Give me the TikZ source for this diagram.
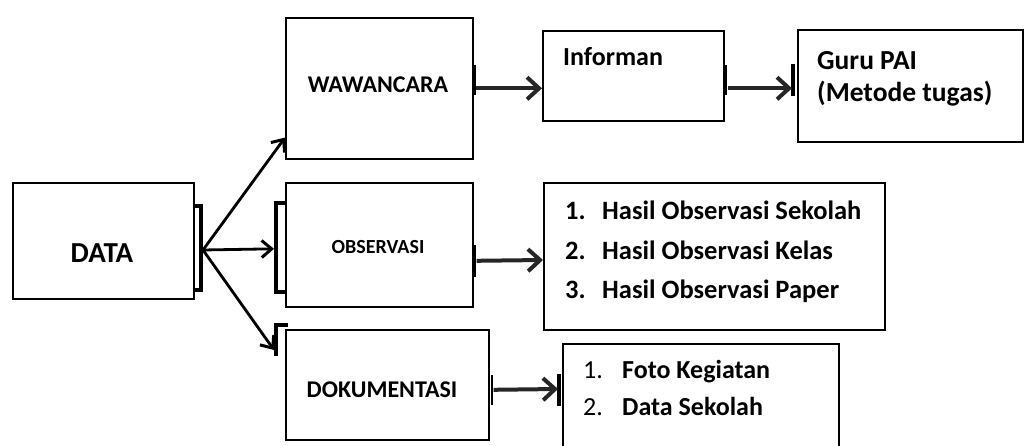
\documentclass[tikz,border=0pt]{standalone}
\usepackage{fontspec}
\setmainfont{Carlito}
\usetikzlibrary{arrows.meta}
\begin{document}
\begin{tikzpicture}[x=1pt,y=-1pt,
  box/.style={draw,line width=1.6pt,inner sep=0pt,anchor=north west},
  txt/.style={inner sep=0pt,anchor=base},
  ltxt/.style={inner sep=0pt,anchor=base west},
  harrow/.style={line width=4pt,draw=black!85,-{Straight Barb[length=12pt,width=22pt,line width=4pt]}},
  darrow/.style={line width=2.8pt,-{Straight Barb[length=10pt,width=17pt,line width=3pt]}},
  brk/.style={line width=3.6pt,miter limit=4},
  tick/.style={line width=1.6pt},
  endbar/.style={line width=4pt}]
\clip (0,0) rectangle (1024,446);
\fill[white] (0,0) rectangle (1024,446);
% boxes
\node[box,minimum width=181pt,minimum height=116pt] (data) at (12,182) {};
\node[box,minimum width=187pt,minimum height=141pt] (waw) at (285,17) {};
\node[box,minimum width=187pt,minimum height=124pt] (obs) at (285,182) {};
\node[box,minimum width=203pt,minimum height=110pt] (dok) at (285,329) {};
\node[box,minimum width=181pt,minimum height=90pt] (inf) at (542,30) {};
\node[box,minimum width=225pt,minimum height=112pt] (guru) at (797,29) {};
\node[box,minimum width=341pt,minimum height=147pt] (obsl) at (543,182) {};
\node[box,minimum width=276pt,minimum height=130pt] (dokl) at (562,343) {};
% texts
\node[txt,font=\fontsize{29}{35}\selectfont\bfseries] (tdata) at (102,262) {DATA};
\node[txt,font=\fontsize{24}{29}\selectfont\bfseries] (twaw) at (378,93) {WAWANCARA};
\node[txt,font=\fontsize{20}{24}\selectfont\bfseries] (tobs) at (378,253) {OBSERVASI};
\node[txt,font=\fontsize{24}{29}\selectfont\bfseries] (tdok) at (382,397) {DOKUMENTASI};
\node[ltxt,font=\fontsize{26}{31}\selectfont\bfseries] (tinf) at (563,66) {Informan};
\node[ltxt,font=\fontsize{27.5}{33}\selectfont\bfseries] (tguru1) at (817,70) {Guru PAI};
\node[ltxt,font=\fontsize{27.5}{33}\selectfont\bfseries] (tguru2) at (817,102) {(Metode tugas)};
\node[ltxt,font=\fontsize{26.5}{32}\selectfont\bfseries] (ob1) at (565,220) {\makebox[37pt][l]{1.}Hasil Observasi Sekolah};
\node[ltxt,font=\fontsize{26.5}{32}\selectfont\bfseries] (ob2) at (565,259) {\makebox[37pt][l]{2.}Hasil Observasi Kelas};
\node[ltxt,font=\fontsize{26.5}{32}\selectfont\bfseries] (ob3) at (565,298) {\makebox[37pt][l]{3.}Hasil Observasi Paper};
\node[ltxt,font=\fontsize{26}{31}\selectfont] (dk1) at (583,378) {\makebox[39pt][l]{1.}\textbf{Foto Kegiatan}};
\node[ltxt,font=\fontsize{26}{31}\selectfont] (dk2) at (583,415) {\makebox[39pt][l]{2.}\textbf{Data Sekolah}};
% brackets and bars
\draw[brk] (194,206) -- (201,206) -- (201,290) -- (194,290);
\draw[brk] (286,203) -- (276,203) -- (276,292) -- (286,292);
\draw[line width=4.5pt] (276,203) -- (276,292);
\draw[brk] (276,356) -- (276,325) -- (288,325);
\draw[endbar] (793,64) -- (793,96);
\draw[endbar] (559,374) -- (559,406);
\draw[tick] (475,65) -- (475,95);
\draw[tick] (726,65) -- (726,95);
\draw[tick] (475,245) -- (475,277);
\draw[tick] (492,375) -- (492,405);
% connectors
\coordinate (hub) at (203,250);
\draw[darrow] (hub) -- ([yshift=22pt]waw.south west);
\draw[darrow] (hub) -- ([xshift=-11pt,yshift=-4pt]obs.west);
\draw[darrow] (hub) -- ([xshift=-11pt,yshift=-21pt]dok.north west);
\draw[harrow] ([xshift=2pt]waw.east) -- (inf.west |- waw.east);
\draw[harrow] ([xshift=3pt]inf.east |- waw.east) -- ([xshift=-5pt]guru.west |- waw.east);
\draw[harrow] ([xshift=3pt,yshift=-16pt]obs.east) -- ([yshift=-78pt]obsl.north west);
\draw[harrow] ([xshift=4pt,yshift=-5pt]dok.east) -- ([xshift=-4pt,yshift=-46pt]dokl.north west);
\end{tikzpicture}
\end{document}
